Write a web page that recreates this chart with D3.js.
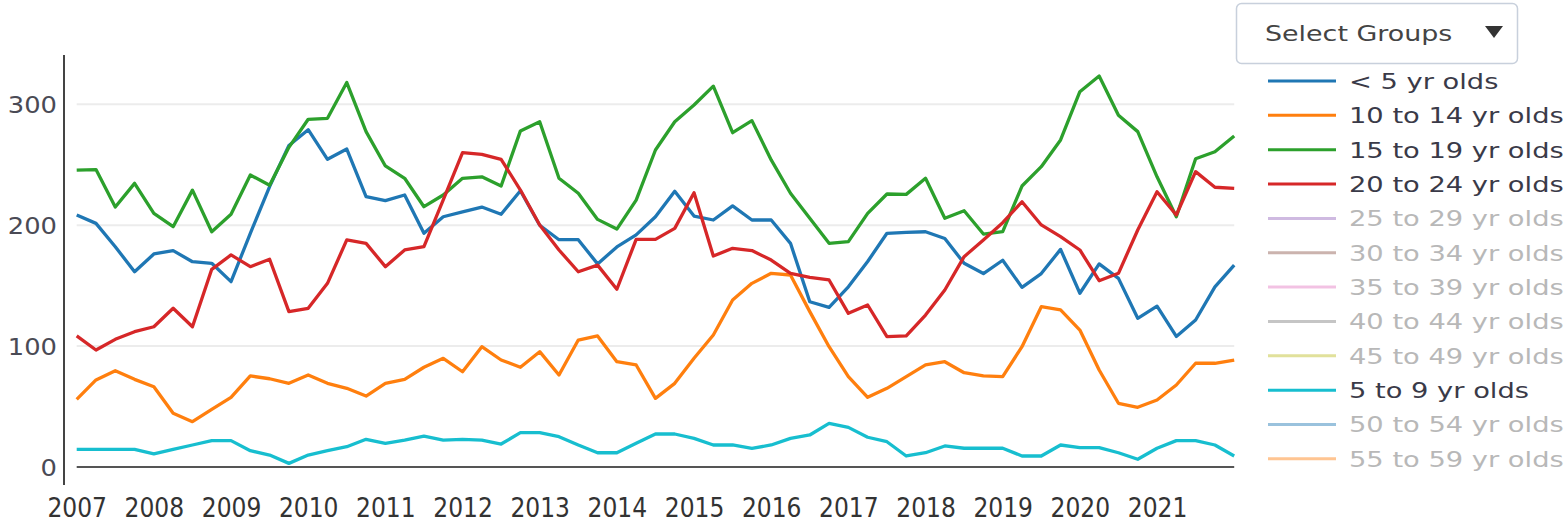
<!DOCTYPE html>
<html>
<head>
<meta charset="utf-8">
<script src="https://cdn.jsdelivr.net/npm/d3@7/dist/d3.min.js"></script>
<style>
  html, body { margin: 0; padding: 0; background: #fff; }
  svg { display: block; }
</style>
</head>
<body>
<svg id="chart" width="1567" height="523"></svg>
<script>
// ---- data ----
const years = ["2007","2008","2009","2010","2011","2012","2013","2014","2015","2016","2017","2018","2019","2020","2021","2022"];
const quarterNames = ["Q1","Q2","Q3","Q4"];
const yTicks = [0, 100, 200, 300];

const lt5 = [208.4,201.5,182.2,161.5,176.2,179,169.8,168.5,153.3,193.3,232,266,279,254.5,263,223.6,220.3,225,193.3,207,211,215,209,228.5,200,188,188,168,182,192,207,228,207.6,204.3,216,204.3,204.3,185,136.7,132,149,170,193.3,194,194.6,189,168.5,160,171,148.6,160,180,143.7,168,156,123,133,108,121.6,149,167];
const age10to14 = [56,72,79.7,72.5,66.4,44.4,37.5,47.7,57.6,75.3,73,69.2,76.1,69.2,65.1,58.7,69.2,72.5,82.5,89.9,78.8,99.5,88.5,82.5,95.4,76.1,105,108.4,87.1,84.4,56.8,69.2,89.9,109.2,138.1,151.9,160.2,158.8,128.5,99.5,74.7,57.6,65.1,74.7,84.4,87.1,78,75.3,74.7,99.5,132.6,129.9,113.3,80.2,52.7,49.4,55.4,67.8,85.8,85.8,88.5];
const age15to19 = [245.6,246,215,234.6,209.8,198.8,229,194.6,209,241.5,233,264.4,287.6,288.4,318,277.4,249,238.8,215.3,225,238.8,240,232.4,278,285.6,238.8,226.4,204.8,196.8,220.8,262.2,285.6,299.4,315,276.5,286.5,254,226.4,205.7,185,186.4,209.8,225.8,225.5,238.8,205.7,212,192.7,194.6,232.4,248.4,270.5,310.4,323.4,291,277.4,240,207,255,260.8,273.8];
const age20to24 = [108.4,96.8,105.6,111.9,116,131.3,116,163.5,175.4,165.7,171.8,128.5,131.3,151.9,187.8,185,165.7,179.5,182.2,221,260,258.6,254.5,229.1,200.2,179.5,161.5,167,147,188.3,188.3,197.4,226.9,174.5,180.9,179,171.2,160.2,156.9,154.7,127.1,134,107.8,108.4,125.7,146.4,174,187.8,202.1,219.4,200.2,190.5,179.5,154.1,160.2,196,227.7,208.4,244.3,231.4,230.5];
const age5to9 = [14.6,14.6,14.6,14.6,10.8,14.6,18.2,21.8,21.8,13.5,9.9,3,9.9,13.5,16.8,22.9,19.6,22.3,25.6,22.3,22.9,22.3,19,28.4,28.4,25.1,18.2,11.8,11.8,19.6,27.3,27.3,23.7,18.2,18.2,15.5,18.2,23.7,26.5,36.1,32.8,24.6,20.9,9.1,11.8,17.4,15.5,15.5,15.5,9.1,9.1,18.2,16,16,11.8,6.4,15.5,21.8,21.8,18.2,9.1];

const groupNames = ["< 5 yr olds","10 to 14 yr olds","15 to 19 yr olds","20 to 24 yr olds","25 to 29 yr olds","30 to 34 yr olds","35 to 39 yr olds","40 to 44 yr olds","45 to 49 yr olds","5 to 9 yr olds","50 to 54 yr olds","55 to 59 yr olds"];
const groupVisible = [true,true,true,true,false,false,false,false,false,true,false,false];
const groupValues = {
  "< 5 yr olds": lt5,
  "10 to 14 yr olds": age10to14,
  "15 to 19 yr olds": age15to19,
  "20 to 24 yr olds": age20to24,
  "5 to 9 yr olds": age5to9
};

// quarterly categories 2007 Q1 .. 2022 Q1
const periods = [];
years.forEach(y => quarterNames.forEach(q => periods.push(y + " " + q)));
periods.length = 61;

// ---- drawing ----
const svg = d3.select("#chart");
const color = d3.scaleOrdinal().domain(groupNames).range(d3.schemeCategory10.concat(d3.schemeCategory10));

const x = d3.scalePoint().domain(periods).range([76.7, 1234.2]);
const y = d3.scaleLinear().domain([0, 300]).range([467, 104.3]);

function stretch(sel, k) {
  sel.each(function () {
    const w = this.getComputedTextLength();
    d3.select(this).attr("textLength", w * k).attr("lengthAdjust", "spacingAndGlyphs");
  });
}

// gridlines
svg.append("g").selectAll("line")
  .data(yTicks.filter(d => d > 0))
  .join("line")
  .attr("x1", 76.7).attr("x2", 1234.2)
  .attr("y1", d => y(d)).attr("y2", d => y(d))
  .attr("stroke", "#ececec").attr("stroke-width", 2);

// y axis
const yAxis = svg.append("g")
  .attr("transform", "translate(64,0)")
  .call(d3.axisLeft(y).tickValues(yTicks).tickSize(0).tickPadding(7));
yAxis.select(".domain").remove();
yAxis.selectAll("text")
  .attr("font-family", "'DejaVu Sans', Verdana, sans-serif")
  .attr("font-size", 23).attr("fill", "#4a4a55").attr("dy", "0.36em");
stretch(yAxis.selectAll("text"), 1.12);
svg.append("line").attr("x1", 64).attr("x2", 64).attr("y1", 55).attr("y2", 485)
  .attr("stroke", "#444").attr("stroke-width", 2);

// x axis
const xTickVals = periods.filter(p => p.endsWith("Q1") && p !== "2022 Q1");
const xAxis = svg.append("g")
  .attr("transform", "translate(0,467)")
  .call(d3.axisBottom(x).tickValues(xTickVals).tickSize(0).tickPadding(32).tickFormat(d => d.slice(0, 4)));
xAxis.select(".domain").remove();
xAxis.selectAll("text")
  .attr("font-family", "'Liberation Sans Narrow', 'DejaVu Sans Condensed', sans-serif")
  .attr("font-size", 26).attr("fill", "#333");
svg.append("line").attr("x1", 76.7).attr("x2", 1234.2).attr("y1", y(0)).attr("y2", y(0))
  .attr("stroke", "#555").attr("stroke-width", 2);

// lines
const line = d3.line().x((d, i) => x(periods[i])).y(d => y(d));
svg.append("g").selectAll("path")
  .data(groupNames.filter((g, i) => groupVisible[i] && groupValues[g]))
  .join("path")
  .attr("d", g => line(groupValues[g]))
  .attr("fill", "none")
  .attr("stroke", g => color(g))
  .attr("stroke-width", 3.3)
  .attr("stroke-linejoin", "round");

// select button
const btn = svg.append("g");
btn.append("rect").attr("x", 1236.5).attr("y", 3.5).attr("width", 281).attr("height", 60).attr("rx", 5)
  .attr("fill", "#fff").attr("stroke", "#c8d0dc").attr("stroke-width", 1.5);
const btnText = btn.append("text").attr("x", 1265).attr("y", 33).attr("dy", "0.36em")
  .attr("font-family", "'DejaVu Sans', Verdana, sans-serif").attr("font-size", 21).attr("fill", "#444")
  .text("Select Groups");
stretch(btnText, 1.28);
btn.append("path").attr("d", "M1485,26 L1503,26 L1494,38 Z").attr("fill", "#333");

// legend
const legend = svg.append("g").selectAll("g")
  .data(groupNames)
  .join("g")
  .attr("transform", (d, i) => `translate(0,${81 + i * 34.35})`);
legend.append("line")
  .attr("x1", 1268).attr("x2", 1336).attr("y1", 0).attr("y2", 0)
  .attr("stroke", d => color(d)).attr("stroke-width", 3)
  .attr("stroke-opacity", (d, i) => groupVisible[i] ? 1 : 0.45);
const legText = legend.append("text")
  .attr("x", 1349).attr("y", 0).attr("dy", "0.36em")
  .attr("font-family", "'DejaVu Sans', Verdana, sans-serif").attr("font-size", 22)
  .attr("fill", (d, i) => groupVisible[i] ? "#3a3a48" : "#b8b8b8")
  .text(d => d);
stretch(legText, 1.24);
</script>
</body>
</html>
